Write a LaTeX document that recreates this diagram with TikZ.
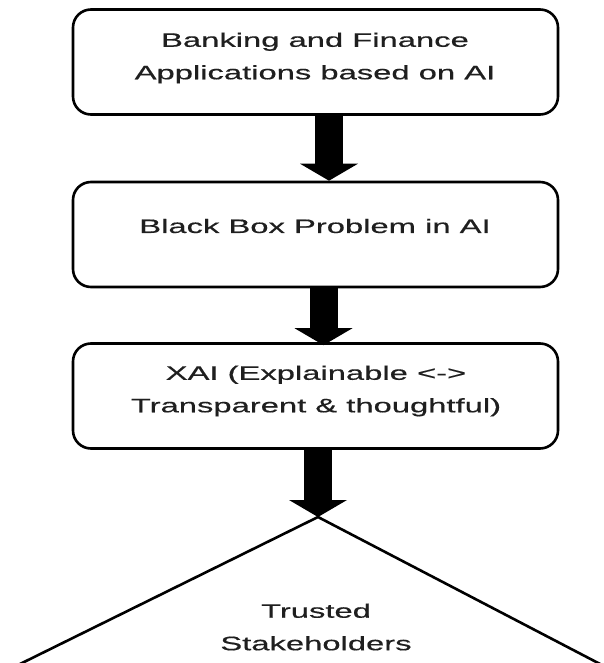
\documentclass[tikz,border=0pt]{standalone}
\usepackage{fontspec}
\setmainfont{Liberation Sans}[FakeStretch=1.68,FakeBold=0.5]
\usetikzlibrary{arrows.meta,calc}
\begin{document}
\begin{tikzpicture}[x=1pt,y=-1pt,
  box/.style={draw=black, line width=2.6pt, rounded corners=18pt,
    minimum width=485pt, minimum height=105pt, inner sep=0pt},
  txt/.style={font=\fontsize{19.5}{32.5}\selectfont, align=center,
    text=black!88, inner sep=0pt},
  flow/.style={line width=28pt,
    -{Triangle[width=58pt,length=17pt,line width=0pt]}},
  edge/.style={line width=2.6pt}]
\useasboundingbox (0,0) rectangle (604,663);
\clip (0,0) rectangle (604,663);

% the three process boxes
\node[box] (b1) at (315.5,62)    {};
\node[box] (b2) at (315.5,234.5) {};
\node[box] (b3) at (315.5,396)   {};

\node[txt] (t1) at (315,58)  {Banking and Finance\\Applications based on AI};
\node[txt] (t2) at (315,226) {Black Box Problem in AI};
\node[txt] (t3) at (316,391) {XAI (Explainable <->\\Transparent \& thoughtful)};

% the open triangle at the bottom
\coordinate (apex) at (318,517);
\coordinate (tl) at (18,665);
\coordinate (tr) at (602,665);
\draw[edge, line join=miter] (tl) -- (apex) -- (tr);
\node[txt] (t4) at (316,627) {Trusted\\Stakeholders};

% block arrows between the stages
\draw[flow] ([xshift=13.5pt]b1.south) -- ([xshift=13.5pt]b2.north);
\draw[flow] ([xshift=8pt]b2.south) -- ([xshift=8pt,yshift=-3pt]b3.north);
\draw[flow] (b3.south -| apex) -- (apex);
\end{tikzpicture}
\end{document}
